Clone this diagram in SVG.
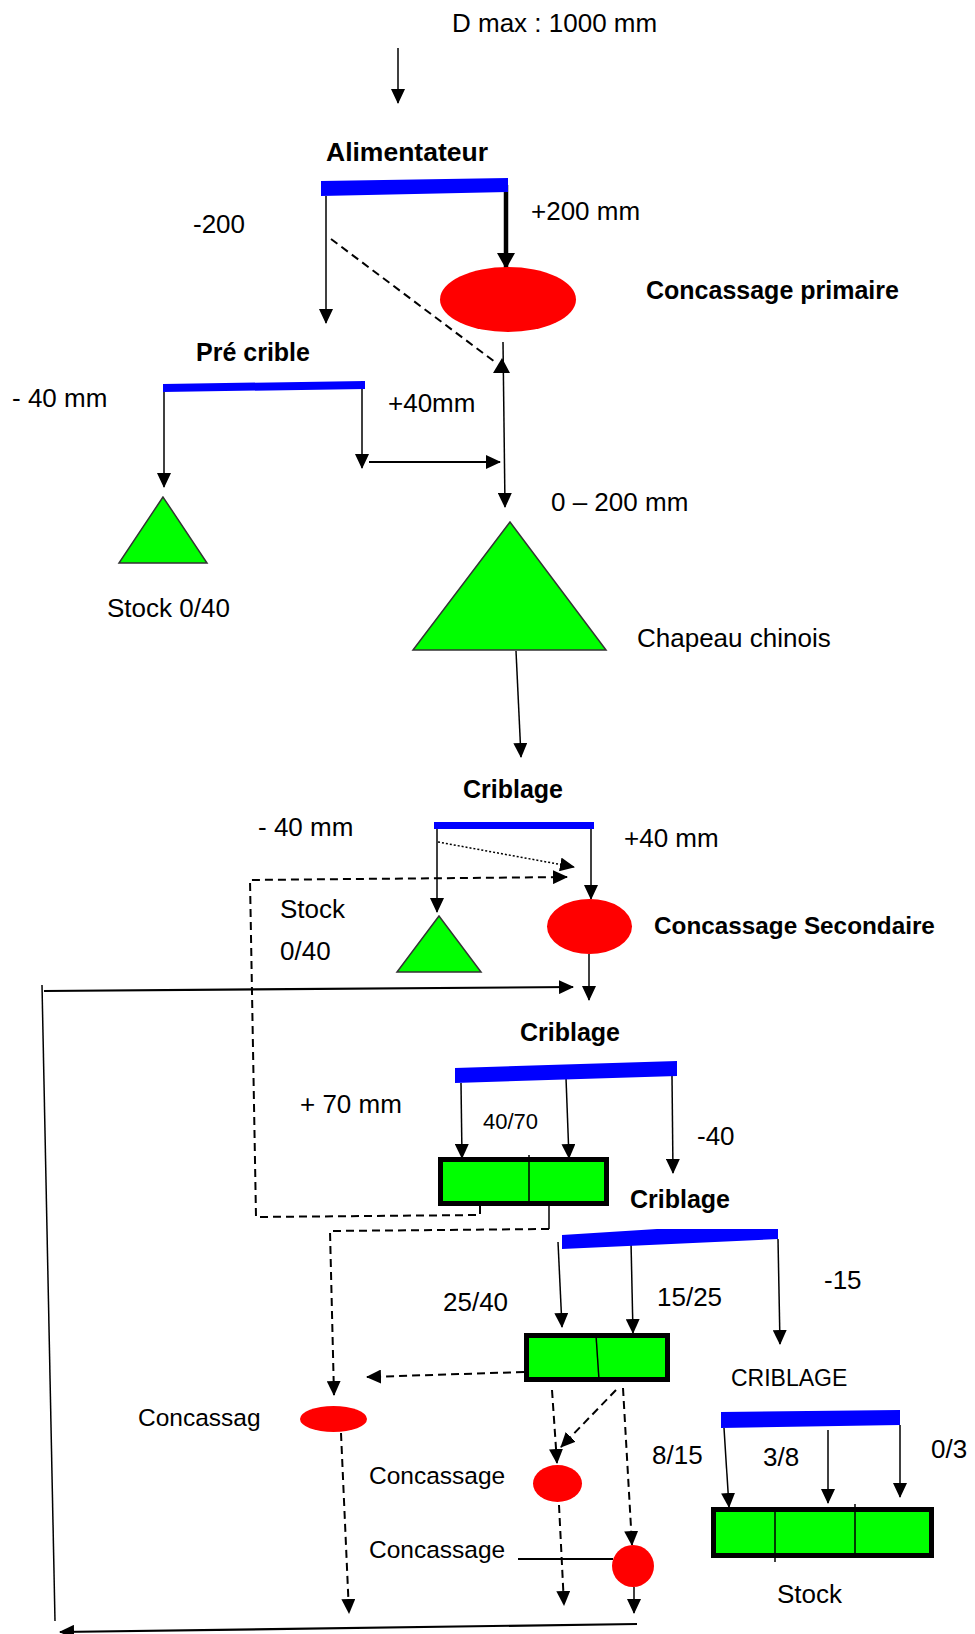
<svg xmlns="http://www.w3.org/2000/svg" width="975" height="1634" viewBox="0 0 975 1634">
<style>
text{font-family:"Liberation Sans",Arial,sans-serif;font-size:26px;fill:#000}
.b{font-weight:bold;font-size:25px}
.s{font-size:22px}
.c{font-size:24.5px}
.bar{fill:#0000FF}
.red{fill:#FF0000}
.tri{fill:#00FF00;stroke:#333;stroke-width:1.5}
.box{fill:#00FF00;stroke:#000;stroke-width:5}
.ln{stroke:#000;stroke-width:1.5;fill:none}
.ln2{stroke:#000;stroke-width:2.2;fill:none}
.dash{stroke:#000;stroke-width:2;fill:none;stroke-dasharray:8 5}
.dot{stroke:#000;stroke-width:1.5;fill:none;stroke-dasharray:2 2}
</style>
<defs>
<marker id="ah" markerUnits="userSpaceOnUse" markerWidth="15" markerHeight="14" viewBox="0 0 15 14" refX="14" refY="7" orient="auto"><path d="M0,0 L15,7 L0,14 z" fill="#000"/></marker>
<marker id="ahb" markerUnits="userSpaceOnUse" markerWidth="16" markerHeight="18" viewBox="0 0 16 18" refX="15" refY="9" orient="auto"><path d="M0,0 L16,9 L0,18 z" fill="#000"/></marker>
</defs>

<g id="connectors">
<line class="ln" x1="398" y1="48" x2="398" y2="103" marker-end="url(#ah)"/>
<line class="ln" x1="326" y1="196" x2="326" y2="323" marker-end="url(#ah)"/>
<line x1="506" y1="185" x2="506" y2="268" stroke="#000" stroke-width="4.5" marker-end="url(#ahb)"/>
<line class="dash" x1="331" y1="239" x2="495" y2="362" stroke-width="1.5" stroke-dasharray="6 5"/>
<polygon points="502,358 493,373 510,373" fill="#000"/>
<line class="ln" x1="503" y1="342" x2="505" y2="507" marker-end="url(#ah)"/>
<line class="ln" x1="164" y1="392" x2="164" y2="487" marker-end="url(#ah)"/>
<line class="ln" x1="362" y1="381" x2="362" y2="468" marker-end="url(#ah)"/>
<line class="ln2" x1="369" y1="462" x2="500" y2="462" marker-end="url(#ah)"/>
<line class="ln" x1="516" y1="651" x2="521" y2="757" marker-end="url(#ah)"/>
<line class="ln" x1="437" y1="829" x2="437" y2="912" marker-end="url(#ah)"/>
<line class="ln" x1="591" y1="829" x2="591" y2="899" marker-end="url(#ah)"/>
<line class="dot" x1="438" y1="842" x2="574" y2="867" marker-end="url(#ah)"/>
<polyline class="dash" points="480,1206 480,1215 256,1217 250,880 567,877" marker-end="url(#ah)"/>
<line class="ln" x1="589" y1="954" x2="589" y2="1000" marker-end="url(#ah)"/>
<line class="ln2" x1="44" y1="991" x2="573" y2="987" marker-end="url(#ah)"/>
<line class="ln" x1="42" y1="985" x2="55" y2="1621"/>
<line class="ln2" x1="637" y1="1624" x2="60" y2="1632" marker-end="url(#ah)"/>
<line class="ln" x1="461" y1="1083" x2="462" y2="1158" marker-end="url(#ah)"/>
<line class="ln" x1="566" y1="1078" x2="569" y2="1158" marker-end="url(#ah)"/>
<line class="ln" x1="672" y1="1076" x2="673" y2="1173" marker-end="url(#ah)"/>
<line class="ln" x1="549" y1="1206" x2="549" y2="1229"/>
<polyline class="dash" points="549,1229 330,1231 334,1395" marker-end="url(#ah)"/>
<line class="ln" x1="558" y1="1242" x2="562" y2="1327" marker-end="url(#ah)"/>
<line class="ln" x1="631" y1="1242" x2="633" y2="1333" marker-end="url(#ah)"/>
<line class="ln" x1="778" y1="1239" x2="780" y2="1344" marker-end="url(#ah)"/>
<line class="dash" x1="524" y1="1372" x2="367" y2="1377" marker-end="url(#ah)"/>
<line class="dash" x1="552" y1="1390" x2="557" y2="1463" marker-end="url(#ah)"/>
<line class="dash" x1="616" y1="1390" x2="561" y2="1447" marker-end="url(#ah)"/>
<line class="dash" x1="623" y1="1388" x2="632" y2="1545" marker-end="url(#ah)"/>
<line class="dash" x1="341" y1="1433" x2="349" y2="1613" marker-end="url(#ah)"/>
<line class="dash" x1="559" y1="1505" x2="564" y2="1605" marker-end="url(#ah)"/>
<line class="ln2" x1="518" y1="1559" x2="613" y2="1559"/>
<line class="ln" x1="634" y1="1587" x2="634" y2="1613" marker-end="url(#ah)"/>
<line class="ln" x1="724" y1="1428" x2="729" y2="1507" marker-end="url(#ah)"/>
<line class="ln" x1="828" y1="1430" x2="828" y2="1503" marker-end="url(#ah)"/>
<line class="ln" x1="900" y1="1425" x2="900" y2="1497" marker-end="url(#ah)"/>
</g>

<g id="input"><text x="452" y="32">D max : 1000 mm</text></g>

<g id="alimentateur">
<text class="b" x="326" y="161" style="font-size:26.5px">Alimentateur</text>
<polygon class="bar" points="321,181 508,178 508,192 321,196"/>
<text x="193" y="233">-200</text>
<text x="531" y="220">+200 mm</text>
</g>

<g id="concassage-primaire">
<ellipse class="red" cx="508" cy="299.5" rx="68" ry="32.5"/>
<text class="b" x="646" y="299">Concassage primaire</text>
</g>

<g id="pre-crible">
<text class="b" x="196" y="361">Pré crible</text>
<polygon class="bar" points="163,384 365,381 365,389 163,392"/>
<text x="12" y="407">- 40 mm</text>
<text x="388" y="412">+40mm</text>
</g>

<g id="stock-1">
<polygon class="tri" points="163,497 119,563 207,563"/>
<text x="107" y="617">Stock 0/40</text>
</g>

<g id="chapeau-chinois">
<polygon class="tri" points="510,522 413,650 606,650"/>
<text x="551" y="511">0 – 200 mm</text>
<text x="637" y="647">Chapeau chinois</text>
</g>

<g id="criblage-1">
<text class="b" x="463" y="798">Criblage</text>
<rect class="bar" x="434" y="822" width="160" height="7"/>
<text x="258" y="836">- 40 mm</text>
<text x="624" y="847">+40 mm</text>
</g>

<g id="stock-2">
<polygon class="tri" points="439,916 397,972 481,972"/>
<text x="280" y="918">Stock</text>
<text x="280" y="960">0/40</text>
</g>

<g id="concassage-secondaire">
<ellipse class="red" cx="589.5" cy="926.5" rx="42.5" ry="27.5"/>
<text class="b" x="654" y="934" style="font-size:24.3px">Concassage Secondaire</text>
</g>

<g id="criblage-2">
<text class="b" x="520" y="1041">Criblage</text>
<polygon class="bar" points="455,1068 677,1061 677,1076 455,1083"/>
<text x="300" y="1113">+ 70 mm</text>
<text class="s" x="483" y="1129">40/70</text>
<text x="697" y="1145">-40</text>
</g>

<g id="box-40-70">
<rect class="box" x="440.5" y="1159.5" width="166" height="44"/>
<line class="ln" x1="529" y1="1155" x2="529" y2="1203"/>
</g>

<g id="criblage-3">
<text class="b" x="630" y="1208">Criblage</text>
<polygon class="bar" points="562,1235 657,1229 778,1229 778,1239 562,1249"/>
<text x="443" y="1311">25/40</text>
<text x="657" y="1306">15/25</text>
<text x="824" y="1289">-15</text>
</g>

<g id="box-25-15">
<rect class="box" x="526.5" y="1335.5" width="141" height="44"/>
<line class="ln" x1="596" y1="1335" x2="599" y2="1380"/>
</g>

<g id="criblage-4">
<text x="731" y="1386" style="font-size:23px">CRIBLAGE</text>
<polygon class="bar" points="721,1412 900,1410 900,1425 721,1428"/>
<text x="652" y="1464">8/15</text>
<text x="763" y="1466">3/8</text>
<text x="931" y="1458">0/3</text>
</g>

<g id="box-stock">
<rect class="box" x="713.5" y="1509.5" width="218" height="46"/>
<line class="ln" x1="775" y1="1508" x2="775" y2="1562"/>
<line class="ln" x1="855" y1="1504" x2="855" y2="1557"/>
<text x="777" y="1603">Stock</text>
</g>

<g id="concassage-a">
<ellipse class="red" cx="333.5" cy="1419" rx="33.5" ry="13"/>
<text class="c" x="138" y="1426">Concassag</text>
</g>

<g id="concassage-b">
<ellipse class="red" cx="557.5" cy="1483.5" rx="24.5" ry="18.5"/>
<text class="c" x="369" y="1484">Concassage</text>
</g>

<g id="concassage-c">
<ellipse class="red" cx="633" cy="1566" rx="21" ry="21"/>
<text class="c" x="369" y="1558">Concassage</text>
</g>
</svg>
